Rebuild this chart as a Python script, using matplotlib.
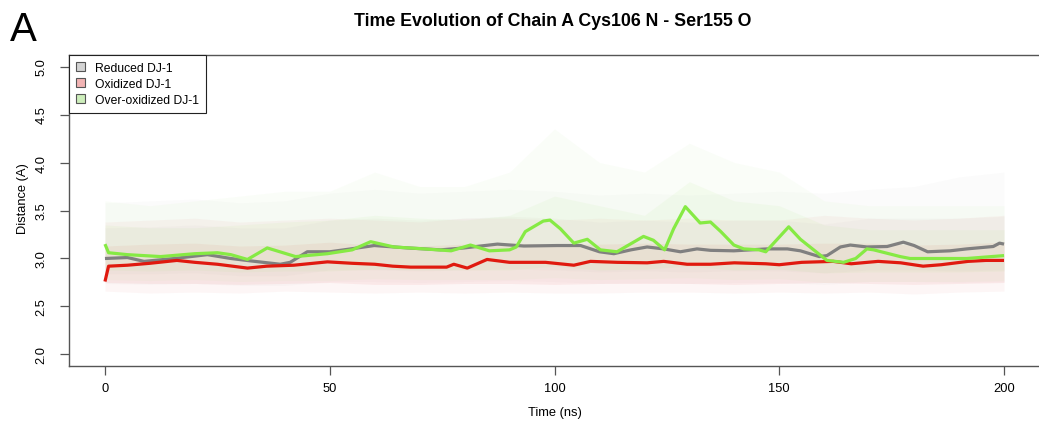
import numpy as np
import matplotlib.pyplot as plt
from matplotlib.patches import Patch

plt.rcParams['font.family'] = ['Liberation Sans', 'DejaVu Sans']

# running means of the distance (A) against simulation time (ns)
red_t = [0, 0.8, 5, 10, 16, 20, 25, 31.7, 36, 42, 49.5, 55, 60, 64, 68, 76, 77.6, 80.6,
         85, 90, 98, 104.3, 108, 114, 120.6, 124.3, 129.5, 134.7, 140, 147, 150, 155,
         162, 166, 172, 177, 182, 186, 192, 196, 200]
red_d = [2.76, 2.92, 2.93, 2.95, 2.98, 2.96, 2.94, 2.90, 2.92, 2.93, 2.965, 2.95, 2.94,
         2.92, 2.91, 2.91, 2.94, 2.90, 2.99, 2.96, 2.96, 2.93, 2.97, 2.96, 2.955, 2.97,
         2.94, 2.94, 2.955, 2.945, 2.935, 2.96, 2.97, 2.945, 2.97, 2.955, 2.92, 2.935,
         2.97, 2.98, 2.98]

gray_t = [0, 5, 8.7, 15.4, 22.8, 28, 32.4, 39, 41.2, 45, 50, 54.7, 59.9, 67.3, 74.7,
          79.9, 87.3, 93.2, 100.6, 105.8, 110, 113.2, 117, 120.6, 124.3, 128, 131.7,
          134.7, 139.9, 147.3, 151.8, 154.7, 158.9, 160.6, 163.6, 165.8, 169.5, 174,
          177.6, 180, 183, 188, 191.7, 197.6, 199, 200]
gray_d = [3.0, 3.01, 2.97, 3.0, 3.04, 3.0, 2.975, 2.94, 2.96, 3.07, 3.07, 3.10, 3.135,
          3.11, 3.09, 3.11, 3.15, 3.13, 3.135, 3.135, 3.07, 3.05, 3.09, 3.12, 3.10, 3.07,
          3.10, 3.085, 3.08, 3.10, 3.10, 3.08, 3.02, 3.03, 3.12, 3.14, 3.12, 3.125, 3.17,
          3.135, 3.07, 3.08, 3.10, 3.125, 3.16, 3.15]

green_t = [0, 0.8, 5, 12.4, 20, 25, 28, 31.7, 36.1, 42.4, 49.5, 55, 59.1, 64.3, 71, 77,
           81.3, 85.5, 90, 91.5, 93.5, 97.5, 99, 101.3, 104.3, 107.3, 110.2, 113.9,
           119.8, 122, 124.5, 126.5, 129.1, 132.4, 134.7, 137, 139.9, 142.1, 145.5,
           147, 152.1, 154.7, 160.6, 164.3, 167, 169.5, 171, 176.9, 179.1, 184.3,
           191.7, 200]
green_d = [3.15, 3.06, 3.04, 3.02, 3.05, 3.06, 3.04, 2.99, 3.11, 3.02, 3.05, 3.09, 3.175,
           3.12, 3.10, 3.08, 3.14, 3.08, 3.09, 3.12, 3.28, 3.39, 3.40, 3.31, 3.16, 3.20,
           3.09, 3.07, 3.23, 3.19, 3.09, 3.31, 3.54, 3.37, 3.38, 3.28, 3.14, 3.10, 3.09,
           3.07, 3.33, 3.20, 2.98, 2.96, 3.0, 3.10, 3.09, 3.02, 3.0, 3.0, 3.0, 3.03]

# extent of the raw frames around each trace (dense core and sparse tails)
cloud_t = [0, 10, 20, 30, 40, 50, 60, 70, 80, 90, 100, 110, 120, 130, 140, 150, 160,
           170, 180, 190, 200]
red_lo_out = [2.66, 2.64, 2.65, 2.64, 2.66, 2.65, 2.64, 2.65, 2.64, 2.65, 2.64, 2.64,
              2.65, 2.65, 2.64, 2.65, 2.64, 2.65, 2.63, 2.65, 2.66]
red_lo_in = [2.75, 2.74, 2.74, 2.73, 2.74, 2.75, 2.73, 2.73, 2.74, 2.74, 2.73, 2.74,
             2.74, 2.74, 2.73, 2.74, 2.75, 2.74, 2.73, 2.74, 2.75]
red_hi_in = [3.13, 3.15, 3.16, 3.13, 3.14, 3.17, 3.14, 3.13, 3.15, 3.16, 3.15, 3.15,
             3.16, 3.15, 3.15, 3.15, 3.16, 3.16, 3.14, 3.15, 3.17]
red_hi_out = [3.38, 3.40, 3.42, 3.38, 3.40, 3.42, 3.40, 3.38, 3.42, 3.42, 3.40, 3.42,
              3.40, 3.42, 3.40, 3.40, 3.45, 3.42, 3.40, 3.42, 3.45]

gray_lo_out = [2.74, 2.73, 2.74, 2.72, 2.72, 2.76, 2.76, 2.75, 2.76, 2.77, 2.76, 2.74,
               2.75, 2.74, 2.75, 2.75, 2.73, 2.76, 2.76, 2.75, 2.76]
gray_lo_in = [2.84, 2.84, 2.85, 2.82, 2.82, 2.88, 2.88, 2.87, 2.88, 2.89, 2.88, 2.86,
              2.87, 2.86, 2.87, 2.87, 2.85, 2.88, 2.88, 2.87, 2.88]
gray_hi_in = [3.32, 3.33, 3.35, 3.32, 3.32, 3.40, 3.42, 3.40, 3.42, 3.44, 3.42, 3.38,
              3.40, 3.38, 3.40, 3.40, 3.36, 3.42, 3.42, 3.42, 3.44]
gray_hi_out = [3.58, 3.60, 3.62, 3.58, 3.60, 3.68, 3.72, 3.68, 3.70, 3.72, 3.70, 3.66,
               3.68, 3.66, 3.68, 3.70, 3.68, 3.72, 3.75, 3.85, 3.90]

green_lo_out = [2.78, 2.77, 2.78, 2.76, 2.77, 2.77, 2.79, 2.78, 2.78, 2.78, 2.80, 2.78,
                2.79, 2.80, 2.78, 2.79, 2.75, 2.76, 2.76, 2.76, 2.77]
green_lo_in = [2.88, 2.87, 2.88, 2.86, 2.87, 2.87, 2.89, 2.88, 2.88, 2.88, 2.92, 2.88,
               2.89, 2.92, 2.88, 2.89, 2.85, 2.86, 2.86, 2.86, 2.87]
green_hi_in = [3.35, 3.32, 3.32, 3.35, 3.38, 3.40, 3.45, 3.42, 3.40, 3.45, 3.65, 3.55,
               3.45, 3.80, 3.60, 3.55, 3.35, 3.30, 3.30, 3.30, 3.30]
green_hi_out = [3.60, 3.55, 3.60, 3.65, 3.70, 3.70, 3.90, 3.75, 3.75, 3.90, 4.35, 4.00,
                3.90, 4.20, 4.00, 3.90, 3.60, 3.55, 3.55, 3.55, 3.55]

labels = ['Reduced DJ-1', 'Oxidized DJ-1', 'Over-oxidized DJ-1']
cloud_cols = ['#a5a5a5', '#e87070', '#a8e878']
cloud_alpha = [(0.04, 0.06), (0.06, 0.10), (0.05, 0.08)]
line_cols = ['#808080', '#e0190f', '#86ea44']
key_cols = ['#d3d3d3', '#f2b4b4', '#cdeebb']

fig = plt.figure(figsize=(10.39, 4.27), dpi=100)
ax = fig.add_axes([69 / 1039, 60 / 427, 971 / 1039, 311 / 427])

clouds = [
    (gray_lo_out, gray_lo_in, gray_hi_in, gray_hi_out),
    (red_lo_out, red_lo_in, red_hi_in, red_hi_out),
    (green_lo_out, green_lo_in, green_hi_in, green_hi_out),
]
for (lo_o, lo_i, hi_i, hi_o), c, (a_out, a_in) in zip(clouds, cloud_cols, cloud_alpha):
    ax.fill_between(cloud_t, lo_o, hi_o, color=c, alpha=a_out, lw=0)
    ax.fill_between(cloud_t, lo_i, hi_i, color=c, alpha=a_in, lw=0)

ax.plot(gray_t, gray_d, color=line_cols[0], lw=2.3, solid_capstyle='butt')
ax.plot(red_t, red_d, color=line_cols[1], lw=2.3, solid_capstyle='butt')
ax.plot(green_t, green_d, color=line_cols[2], lw=2.3, solid_capstyle='butt')

ax.set_xlim(-8, 208)
ax.set_ylim(1.88, 5.12)
ax.set_xticks([0, 50, 100, 150, 200])
ax.set_yticks([2.0, 2.5, 3.0, 3.5, 4.0, 4.5, 5.0])
ax.set_yticklabels(['2.0', '2.5', '3.0', '3.5', '4.0', '4.5', '5.0'], rotation=90, va='center')
ax.tick_params(direction='out', length=6.5, width=0.9, color='#555555', labelsize=9.3, pad=5)
ax.tick_params(axis='y', pad=9)
for s in ax.spines.values():
    s.set_color('#555555')
    s.set_linewidth(1.0)

ax.set_xlabel('Time (ns)', fontsize=9.3, labelpad=9)
fig.text(23 / 1039, 1 - 199 / 427, 'Distance (A)', rotation=90, fontsize=9.3,
         ha='center', va='center')

handles = [Patch(facecolor=k, edgecolor='#555555', lw=0.8) for k in key_cols]
leg = ax.legend(handles, labels, loc='upper left', bbox_to_anchor=(0, 1),
                borderaxespad=0, fancybox=False, framealpha=1, edgecolor='#222222',
                fontsize=8.7, handlelength=0.75, handleheight=0.75, handletextpad=0.85,
                labelspacing=0.35, borderpad=0.55)
leg.get_frame().set_linewidth(0.8)

fig.text(553 / 1039, 1 - 22 / 427, 'Time Evolution of Chain A Cys106 N - Ser155 O',
         fontsize=12.8, fontweight='bold', ha='center', va='center')
fig.text(10 / 1039, 1 - 11 / 427, 'A', fontsize=29, ha='left', va='top')

fig.savefig('out.png', dpi=100)
